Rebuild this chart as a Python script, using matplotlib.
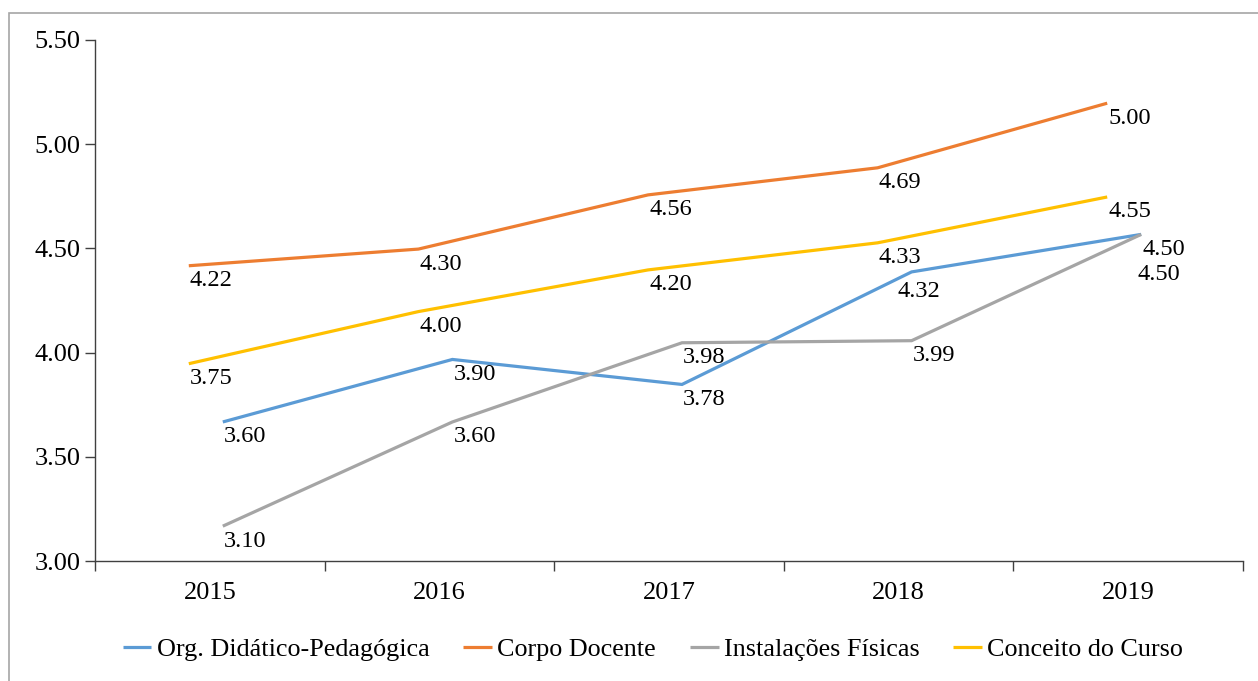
import matplotlib
matplotlib.use("Agg")
import matplotlib.pyplot as plt
from matplotlib.transforms import ScaledTranslation
from matplotlib.patches import Rectangle
import numpy as np

plt.rcParams['font.family'] = ['Liberation Serif', 'DejaVu Serif']

## data
years = ['2015', '2016', '2017', '2018', '2019']
org_didatico = [3.60, 3.90, 3.78, 4.32, 4.50]
corpo_docente = [4.22, 4.30, 4.56, 4.69, 5.00]
instalacoes = [3.10, 3.60, 3.98, 3.99, 4.50]
conceito = [3.75, 4.00, 4.20, 4.33, 4.55]

series_names = ['Org. Didático-Pedagógica', 'Corpo Docente',
                'Instalações Físicas', 'Conceito do Curso']
series_vals = [org_didatico, corpo_docente, instalacoes, conceito]
colors = ['#5B9BD5', '#ED7D31', '#A5A5A5', '#FFC000']

# the original rendering draws each line shifted (pixels: dx, dy up)
shift_px = [(13, 14), (-21, 41), (13, 14), (-21, 41)]
# a couple of labels were moved to avoid overlaps (series idx, point idx): (dx, dy) px
label_nudge = {(0, 3): (-15, -5), (2, 4): (-5, -25)}

W, H = 1258, 681
fig = plt.figure(figsize=(W / 100, H / 100), dpi=100)
ax = fig.add_axes([95 / W, 1 - 561 / H, (1243 - 95) / W, (561 - 40) / H])

# outer frame
fig.patches.append(Rectangle((9 / W, -0.2), 1.5, 1.2 - 13 / H, transform=fig.transFigure,
                             fill=False, edgecolor='#A6A6A6', lw=1.2))

x = np.arange(len(years))
handles = []
for i, (name, vals, c) in enumerate(zip(series_names, series_vals, colors)):
    dx, dy = shift_px[i]
    tr = ax.transData + ScaledTranslation(dx / 100, dy / 100, fig.dpi_scale_trans)
    h, = ax.plot(x, vals, color=c, lw=2.3, transform=tr, solid_capstyle='butt',
                 solid_joinstyle='miter', label=name)
    handles.append(h)
    for j, v in enumerate(vals):
        ndx, ndy = label_nudge.get((i, j), (0, 0))
        ltr = ax.transData + ScaledTranslation((dx + 1 + ndx) / 100, (dy - 15 + ndy) / 100,
                                               fig.dpi_scale_trans)
        ax.text(x[j], v, '%.2f' % v, transform=ltr, ha='left', va='center',
                fontsize=17.6, color='#000000')

ax.set_xlim(-0.5, len(years) - 0.5)
ax.set_ylim(3.0, 5.5)
ax.set_yticks(np.arange(3.0, 5.51, 0.5))
ax.set_yticklabels(['%.2f' % t for t in np.arange(3.0, 5.51, 0.5)])
ax.set_xticks(x)
ax.set_xticklabels(years)
ax.set_xticks(np.arange(-0.5, len(years), 1.0), minor=True)
ax.tick_params(axis='x', which='major', length=0, pad=15, labelsize=19)
ax.tick_params(axis='x', which='minor', length=7.5, width=1, color='#404040', direction='out')
ax.tick_params(axis='y', length=7.5, width=1, color='#404040', pad=3, labelsize=19)

for s in ['top', 'right']:
    ax.spines[s].set_visible(False)
for s in ['left', 'bottom']:
    ax.spines[s].set_color('#404040')
    ax.spines[s].set_linewidth(1.0)

fig.legend(handles=handles, loc='center', bbox_to_anchor=(653 / W, 1 - 649 / H),
           ncol=4, frameon=False, fontsize=18.8, handlelength=1.1, handletextpad=0.2,
           columnspacing=1.3)

fig.savefig('out.png', dpi=100)
